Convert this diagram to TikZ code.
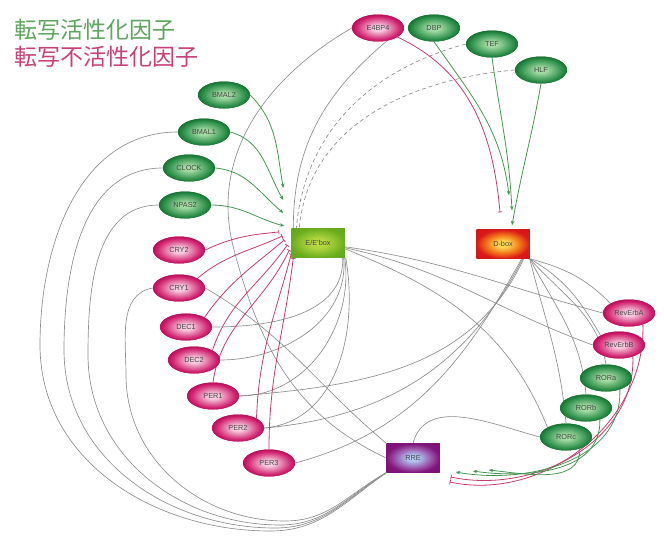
\documentclass[tikz,border=0pt]{standalone}
\usepackage{fontspec}
\setmainfont{Liberation Sans}
\newfontfamily\cjk{Noto Sans CJK JP}
\usetikzlibrary{arrows.meta,shapes.geometric,calc}

\definecolor{linegray}{RGB}{140,140,140}
\definecolor{actcol}{RGB}{70,150,80}
\definecolor{inhcol}{RGB}{195,60,110}
\definecolor{ttlg}{RGB}{95,165,95}
\definecolor{ttlp}{RGB}{200,65,120}
\definecolor{labc}{RGB}{70,70,70}

\pgfdeclareradialshading{gball}{\pgfpoint{0bp}{0bp}}{rgb(0bp)=(0.64,0.86,0.64); rgb(5bp)=(0.64,0.86,0.64); rgb(21bp)=(0.16,0.55,0.28); rgb(25bp)=(0.1,0.45,0.2); rgb(50bp)=(0.1,0.45,0.2)}
\pgfdeclareradialshading{pball}{\pgfpoint{0bp}{0bp}}{rgb(0bp)=(0.97,0.8,0.88); rgb(5bp)=(0.97,0.8,0.88); rgb(21bp)=(0.82,0.14,0.44); rgb(25bp)=(0.72,0.06,0.36); rgb(50bp)=(0.72,0.06,0.36)}
\pgfdeclareradialshading{eball}{\pgfpoint{0bp}{0bp}}{rgb(0bp)=(0.74,0.86,0.28); rgb(8bp)=(0.7,0.84,0.25); rgb(25bp)=(0.42,0.68,0.12); rgb(50bp)=(0.35,0.6,0.1)}
\pgfdeclareradialshading{dball}{\pgfpoint{0bp}{0bp}}{rgb(0bp)=(1,0.88,0.35); rgb(6bp)=(1,0.82,0.3); rgb(16bp)=(0.95,0.45,0.1); rgb(25bp)=(0.85,0.1,0.1); rgb(50bp)=(0.8,0.05,0.08)}
\pgfdeclareradialshading{rball}{\pgfpoint{0bp}{0bp}}{rgb(0bp)=(0.72,0.82,0.96); rgb(6bp)=(0.68,0.75,0.93); rgb(18bp)=(0.6,0.3,0.65); rgb(25bp)=(0.5,0.08,0.48); rgb(50bp)=(0.45,0.05,0.42)}

\tikzset{
  gene/.style={ellipse, minimum width=52pt, minimum height=27pt, inner sep=0pt,
    font=\fontsize{7.3}{8}\selectfont, text=labc},
  actnode/.style={gene, shading=gball},
  inhnode/.style={gene, shading=pball},
  elem/.style={rectangle, minimum width=53pt, minimum height=29pt, inner sep=0pt,
    font=\fontsize{7.3}{8}\selectfont, text=labc},
  gl/.style={draw=linegray, line width=0.65pt},
  gd/.style={gl, dashed, dash pattern=on 4pt off 3pt},
  gact/.style={draw=actcol, line width=0.8pt, -{Stealth[length=4.5pt,width=3.5pt]}},
  pinh/.style={draw=inhcol, line width=0.8pt, -{Bar[width=4.5pt]}},
  ttl/.style={anchor=west, inner sep=0pt, font=\cjk\fontsize{23}{23}\selectfont}
}

\begin{document}
\begin{tikzpicture}[x=1pt,y=1pt]
\path[use as bounding box] (0,0) rectangle (664,-536);

% titles
\node[ttl, text=ttlg] (t1) at (14,-30) {転写活性化因子};
\node[ttl, text=ttlp] (t2) at (14,-57) {転写不活性化因子};

% helper points of the long arcs
\coordinate (a1) at (40,-345);
\coordinate (a2) at (64,-350);
\coordinate (a3) at (88,-355);
\coordinate (a4) at (126,-375);
\coordinate (b1) at (270,-531);
\coordinate (b2) at (275,-528);
\coordinate (b3) at (280,-525);
\coordinate (b4) at (285,-521);
\coordinate (a5) at (234,-250);

% nodes
\node[inhnode] (E4BP4) at (378,-28) {E4BP4};
\node[actnode] (DBP) at (434,-28) {DBP};
\node[actnode] (TEF) at (492,-44) {TEF};
\node[actnode] (HLF) at (541,-70) {HLF};
\node[actnode] (BMAL2) at (224,-95) {BMAL2};
\node[actnode] (BMAL1) at (204,-132) {BMAL1};
\node[actnode] (CLOCK) at (189,-168) {CLOCK};
\node[actnode] (NPAS2) at (185,-205) {NPAS2};
\node[inhnode] (CRY2) at (179,-250) {CRY2};
\node[inhnode] (CRY1) at (179,-288) {CRY1};
\node[inhnode] (DEC1) at (186,-327) {DEC1};
\node[inhnode] (DEC2) at (194,-360) {DEC2};
\node[inhnode] (PER1) at (213,-396) {PER1};
\node[inhnode] (PER2) at (238,-428) {PER2};
\node[inhnode] (PER3) at (269,-463) {PER3};
\node[inhnode] (RevErbA) at (629,-313) {RevErbA};
\node[inhnode] (RevErbB) at (619,-345) {RevErbB};
\node[actnode] (RORa) at (606,-378) {RORa};
\node[actnode] (RORb) at (586,-408) {RORb};
\node[actnode] (RORc) at (566,-437) {RORc};
\node[elem, shading=eball] (EEbox) at (318,-243) {E/E'box};
\node[elem, shading=dball] (Dbox) at (503,-244) {D-box};
\node[elem, shading=rball] (RRE) at (413,-458) {RRE};

% ---------- gray target lines ----------
\draw[gl] (BMAL1.west) to[out=180,in=90] (a1) to[out=-90,in=180] (b1) to[out=0,in=215] (RRE.south west);
\draw[gl] (CLOCK.west) to[out=180,in=90] (a2) to[out=-90,in=180] (b2) to[out=0,in=213] (RRE.south west);
\draw[gl] (NPAS2.west) to[out=180,in=90] (a3) to[out=-90,in=180] (b3) to[out=0,in=211] (RRE.south west);
\draw[gl] (CRY1.west) to[out=190,in=90] (a4) to[out=-90,in=180] (b4) to[out=0,in=209] (RRE.south west);
\draw[gl] (RRE.west) to[out=155,in=-75] (a5) to[out=105,in=210] (E4BP4.west);
\draw[gl] (CRY1.east) to[out=-30,in=140] (RRE.north west);
\draw[gl] (E4BP4.-55) to[out=220,in=90] ([xshift=2pt]EEbox.north west);
\draw[gd] (TEF.west) to[out=195,in=85] ([xshift=5pt]EEbox.north west);
\draw[gd] (HLF.west) to[out=185,in=85] ([xshift=8pt]EEbox.north west);
\draw[gl] ([xshift=-2pt]EEbox.south east) to[out=-88,in=0] (DEC1.east);
\draw[gl] ([xshift=-1pt]EEbox.south east) to[out=-85,in=0] (DEC2.east);
\draw[gl] (EEbox.south east) to[out=-82,in=0] (PER1.east);
\draw[gl] ([xshift=1pt]EEbox.south east) to[out=-80,in=5] (PER2.east);
\draw[gl] (EEbox.-8) to[out=-8,in=165] (RevErbA.west);
\draw[gl] (EEbox.-10) to[out=-12,in=160] (RevErbB.west);
\draw[gl] (EEbox.-12) to[out=-22,in=112] (RORc.north west);
\draw[gl] (Dbox.south east) to[out=-15,in=135] (RevErbA.north west);
\draw[gl] (Dbox.south east) to[out=-30,in=120] (RevErbB.north west);
\draw[gl] (Dbox.south east) to[out=-48,in=100] (RORa.north);
\draw[gl] (Dbox.south east) to[out=-62,in=95] (RORb.north);
\draw[gl] (Dbox.south east) to[out=-76,in=95] (RORc.north);
\draw[gl] ([xshift=-6pt]Dbox.south east) to[out=-115,in=5] (PER1.east);
\draw[gl] ([xshift=-7pt]Dbox.south east) to[out=-117,in=5] (PER2.east);
\draw[gl] ([xshift=-8pt]Dbox.south east) to[out=-119,in=15] (PER3.east);
\draw[gl] (RRE.north) to[out=75,in=165] (RORc.west);

% ---------- activators / inhibitors to E/E'box ----------
\draw[gact] (BMAL2.east) to[out=-45,in=100] ([shift={(-8pt,55pt)}]EEbox.west);
\draw[gact] (BMAL1.east) to[out=-15,in=120] ([shift={(-8pt,43pt)}]EEbox.west);
\draw[gact] (CLOCK.east) to[out=-5,in=140] ([shift={(-8pt,30pt)}]EEbox.west);
\draw[gact] (NPAS2.east) to[out=0,in=165] ([shift={(-7pt,17pt)}]EEbox.west);

\draw[pinh] (CRY2.east) to[out=25,in=185] ([shift={(-12pt,11pt)}]EEbox.west);
\draw[pinh] (CRY1.north east) to[out=40,in=205] ([shift={(-9pt,7pt)}]EEbox.west);
\draw[pinh] (DEC1.north east) to[out=55,in=220] ([shift={(-7pt,3pt)}]EEbox.west);
\draw[pinh] (DEC2.north east) to[out=72,in=235] ([shift={(-4pt,-2pt)}]EEbox.west);
\draw[pinh] (PER1.north) to[out=82,in=245] ([shift={(-2pt,-7pt)}]EEbox.west);
\draw[pinh] (PER2.north east) to[out=88,in=255] ([shift={(0pt,-11pt)}]EEbox.west);
\draw[pinh] (PER3.north) to[out=90,in=263] ([shift={(2pt,-15pt)}]EEbox.west);

% ---------- to D-box ----------
\draw[pinh] (E4BP4.-25) to[out=-25,in=95] ([shift={(-3pt,17pt)}]Dbox.north);
\draw[gact] (DBP.south) to[out=-55,in=97] ([shift={(6pt,34pt)}]Dbox.north);
\draw[gact] (TEF.south) to[out=-82,in=93] ([shift={(9pt,19pt)}]Dbox.north);
\draw[gact] (HLF.south) to[out=-100,in=80] ([shift={(9pt,4pt)}]Dbox.north);

% ---------- to RRE ----------
\draw[pinh] (RevErbA.-40) to[out=-88,in=-12] ([shift={(10pt,-24pt)}]RRE.east);
\draw[pinh] (RevErbB.-40) to[out=-88,in=-12] ([shift={(11pt,-19pt)}]RRE.east);
\draw[gact] (RORa.-40) to[out=-88,in=-10] ([shift={(16pt,-14pt)}]RRE.east);
\draw[gact] (RORb.-40) to[out=-88,in=-8] ([shift={(33pt,-13pt)}]RRE.east);
\draw[gact] (RORc.-40) to[out=-88,in=-6] ([shift={(49pt,-12pt)}]RRE.east);

% redraw nodes on top of the connectors
\node[inhnode] at (E4BP4) {E4BP4};
\node[actnode] at (DBP) {DBP};
\node[actnode] at (TEF) {TEF};
\node[actnode] at (HLF) {HLF};
\node[actnode] at (BMAL2) {BMAL2};
\node[actnode] at (BMAL1) {BMAL1};
\node[actnode] at (CLOCK) {CLOCK};
\node[actnode] at (NPAS2) {NPAS2};
\node[inhnode] at (CRY2) {CRY2};
\node[inhnode] at (CRY1) {CRY1};
\node[inhnode] at (DEC1) {DEC1};
\node[inhnode] at (DEC2) {DEC2};
\node[inhnode] at (PER1) {PER1};
\node[inhnode] at (PER2) {PER2};
\node[inhnode] at (PER3) {PER3};
\node[inhnode] at (RevErbA) {RevErbA};
\node[inhnode] at (RevErbB) {RevErbB};
\node[actnode] at (RORa) {RORa};
\node[actnode] at (RORb) {RORb};
\node[actnode] at (RORc) {RORc};
\node[elem, shading=eball] at (EEbox) {E/E'box};
\node[elem, shading=dball] at (Dbox) {D-box};
\node[elem, shading=rball] at (RRE) {RRE};
\end{tikzpicture}
\end{document}
